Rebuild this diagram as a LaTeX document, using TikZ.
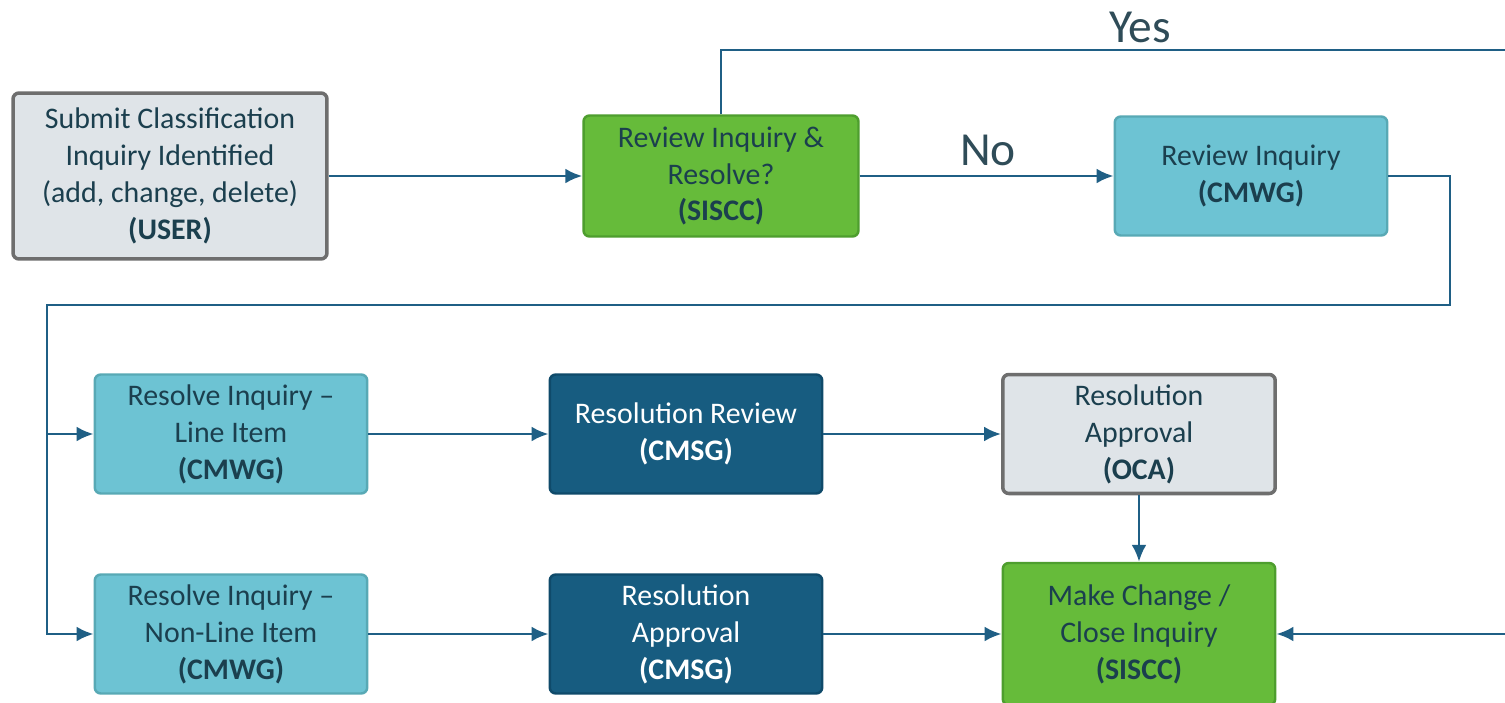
\documentclass[tikz,border=0pt]{standalone}
\usepackage{fontspec}
\setmainfont{Carlito}
\usetikzlibrary{arrows.meta}
\definecolor{wireblue}{HTML}{1F5F85}
\definecolor{inktext}{HTML}{1B3F4E}
\definecolor{greyfill}{HTML}{DFE4E8}
\definecolor{greyline}{HTML}{6E6E6E}
\definecolor{greenfill}{HTML}{66BB3A}
\definecolor{greenline}{HTML}{4E9E2E}
\definecolor{tealfill}{HTML}{6DC3D3}
\definecolor{tealline}{HTML}{58A9B5}
\definecolor{navyfill}{HTML}{175C80}
\definecolor{navyline}{HTML}{0F4A6A}
\begin{document}
\begin{tikzpicture}[x=0.02cm,y=-0.02cm,
    flowbox/.style ={rectangle, rounded corners=0.12cm, line width=1.4pt, align=center,
      minimum width=5.45cm, minimum height=2.38cm, inner sep=2pt, text=inktext,
      font=\fontsize{17}{21}\selectfont},
    greybox/.style ={flowbox, fill=greyfill, draw=greyline, line width=2pt},
    greenbox/.style ={flowbox, fill=greenfill, draw=greenline},
    tealbox/.style ={flowbox, fill=tealfill, draw=tealline},
    navybox/.style ={flowbox, fill=navyfill, draw=navyline, text=white},
    wire/.style ={draw=wireblue, line width=1.6pt},
    link/.style ={wire, -{Latex[length=3.4mm,width=3mm]}},
    answer/.style ={text=inktext!80!gray, font=\fontsize{27}{30}\selectfont}]
   \fill[white] (0,0) rectangle (1505,703);
   \clip (0,0) rectangle (1505,703);
   \node[greybox, minimum width=6.28cm, minimum height=3.32cm] (user) at (170,176)
     {Submit Classification\\Inquiry Identified\\(add, change, delete)\\\textbf{(USER)}};
   \node[greenbox, minimum width=5.5cm, minimum height=2.42cm] (siscc) at (721,176)
     {Review Inquiry \&\\Resolve?\\\textbf{(SISCC)}};
   \node[tealbox] (cmwg) at (1251,176) {Review Inquiry\\\textbf{(CMWG)}};
   \node[tealbox] (line) at (231,434) {Resolve Inquiry --\\Line Item\\\textbf{(CMWG)}};
   \node[navybox] (review) at (686,434) {Resolution Review\\\textbf{(CMSG)}};
   \node[greybox] (oca) at (1139,434) {Resolution\\Approval\\\textbf{(OCA)}};
   \node[tealbox] (nonline) at (231,634) {Resolve Inquiry --\\Non-Line Item\\\textbf{(CMWG)}};
   \node[navybox] (approval) at (686,634) {Resolution\\Approval\\\textbf{(CMSG)}};
   \node[greenbox, minimum height=2.84cm] (close) at (1139,634)
     {Make Change /\\Close Inquiry\\\textbf{(SISCC)}};
   % connector corners and ends past the frame
   \coordinate (yesend) at (1560,50);
   \coordinate (backin) at (1560,634);
   \coordinate (turnR) at (1450,305);
   \coordinate (turnL) at (47,305);
   \coordinate (split) at (47,434);
   \node[answer] (yes) at (1140,27) {Yes};
   \node[answer] (no) at (988,150) {No};
   \draw[link] (user) to (siscc);
   \draw[link] (siscc) to (cmwg);
   \draw[wire] (siscc.north) |- (yesend);
   \draw[link] (cmwg.east) -| (turnR) -- (turnL) |- (nonline);
   \draw[link] (split) to (line);
   \draw[link] (line) to (review);
   \draw[link] (review) to (oca);
   \draw[link] (oca) to (close);
   \draw[link] (nonline) to (approval);
   \draw[link] (approval) to (close);
   \draw[link] (backin) to (close);
 \end{tikzpicture}
\end{document}
